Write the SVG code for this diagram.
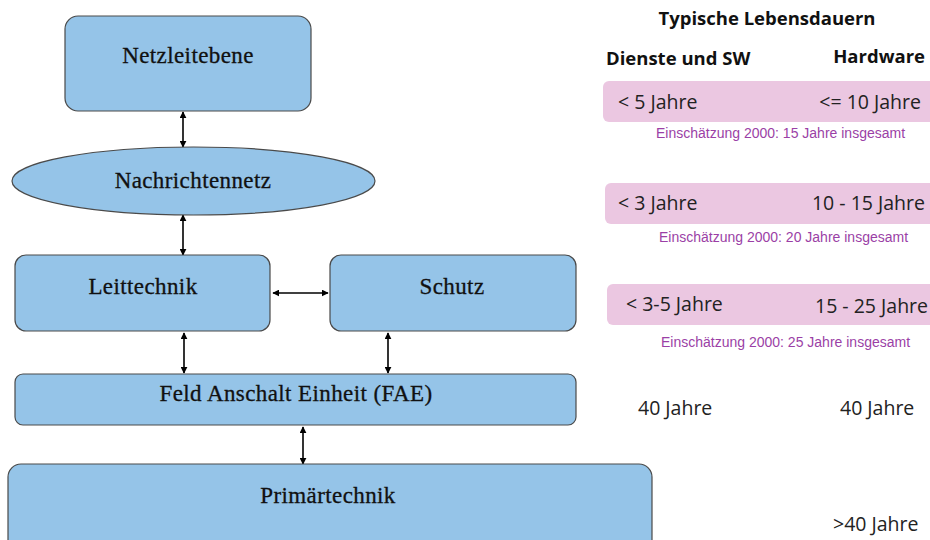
<svg xmlns="http://www.w3.org/2000/svg" width="930" height="540" viewBox="0 0 930 540">
<defs>
<marker id="ah" viewBox="0 0 10 10" refX="9" refY="5" markerWidth="7" markerHeight="7" orient="auto-start-reverse" markerUnits="userSpaceOnUse"><path d="M0,0 L10,5 L0,10 z" fill="#000"/></marker>
<style>
.box{fill:#95c4e8;stroke:#4a4a4a;stroke-width:1.2}
.lbl{font-family:"Liberation Serif","DejaVu Serif",serif;font-size:23px;letter-spacing:0.4px;fill:#111;text-anchor:middle;stroke:#111;stroke-width:0.3}
.con{stroke:#000;stroke-width:1.6;fill:none;marker-start:url(#ah);marker-end:url(#ah)}
.hd{font-family:"Open Sans","Liberation Sans",sans-serif;font-weight:bold;font-size:18.5px;fill:#111}
.band{fill:#ebc7e1}
.yr{font-family:"Open Sans","Liberation Sans",sans-serif;font-size:19.5px;fill:#222}
.note{font-family:"Liberation Sans",Arial,sans-serif;font-size:14px;fill:#9b3fa6}
</style>
</defs>
<rect width="930" height="540" fill="#fff"/>
<g id="connectors">
<line class="con" x1="183" y1="112" x2="183" y2="147"/>
<line class="con" x1="183" y1="215" x2="183" y2="255"/>
<line class="con" x1="273" y1="293" x2="328" y2="293"/>
<line class="con" x1="184" y1="333" x2="184" y2="373"/>
<line class="con" x1="388" y1="333" x2="388" y2="373"/>
<line class="con" x1="303" y1="427" x2="303" y2="464"/>
</g>
<g id="netzleitebene"><rect class="box" x="65" y="16" width="246" height="95" rx="13"/><text class="lbl" x="188" y="63">Netzleitebene</text></g>
<g id="nachrichtennetz"><ellipse class="box" cx="193.5" cy="181" rx="181.5" ry="34"/><text class="lbl" x="193" y="188">Nachrichtennetz</text></g>
<g id="leittechnik"><rect class="box" x="15" y="255" width="255" height="76" rx="11"/><text class="lbl" x="143" y="294">Leittechnik</text></g>
<g id="schutz"><rect class="box" x="330" y="255" width="246" height="76" rx="11"/><text class="lbl" x="452" y="294">Schutz</text></g>
<g id="fae"><rect class="box" x="15" y="374" width="561" height="51" rx="8"/><text class="lbl" x="296" y="401">Feld Anschalt Einheit (FAE)</text></g>
<g id="primaertechnik"><rect class="box" x="8" y="464" width="644" height="90" rx="13"/><text class="lbl" x="328" y="503">Primärtechnik</text></g>
<g id="lebensdauern">
<text class="hd" x="767" y="25" text-anchor="middle">Typische Lebensdauern</text>
<text class="hd" x="606" y="65">Dienste und SW</text>
<text class="hd" x="925" y="63" text-anchor="end">Hardware</text>
<rect class="band" x="603" y="81" width="340" height="41" rx="6"/>
<text class="yr" x="618" y="109">&lt; 5 Jahre</text>
<text class="yr" x="921" y="109" text-anchor="end">&lt;= 10 Jahre</text>
<text class="note" x="656" y="138">Einschätzung 2000: 15 Jahre insgesamt</text>
<rect class="band" x="605" y="183" width="340" height="41" rx="6"/>
<text class="yr" x="618" y="210">&lt; 3 Jahre</text>
<text class="yr" x="925" y="210" text-anchor="end">10 - 15 Jahre</text>
<text class="note" x="659" y="242">Einschätzung 2000: 20 Jahre insgesamt</text>
<rect class="band" x="607" y="284" width="340" height="41" rx="6"/>
<text class="yr" x="626" y="311">&lt; 3-5 Jahre</text>
<text class="yr" x="815" y="313">15 - 25 Jahre</text>
<text class="note" x="661" y="347">Einschätzung 2000: 25 Jahre insgesamt</text>
<text class="yr" x="638" y="415">40 Jahre</text>
<text class="yr" x="840" y="415">40 Jahre</text>
<text class="yr" x="833" y="531">&gt;40 Jahre</text>
</g>
</svg>
